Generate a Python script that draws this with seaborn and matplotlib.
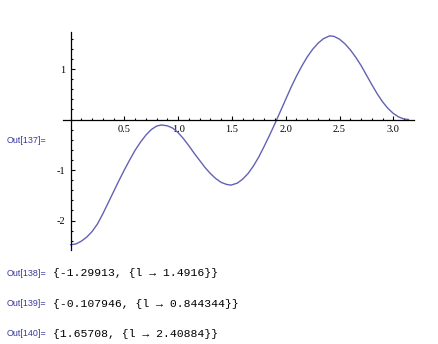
import matplotlib
matplotlib.use("Agg")
import matplotlib.pyplot as plt
import seaborn as sns
from matplotlib.ticker import FixedLocator, MultipleLocator

# ---- data ----
x_vals = [0.00, 0.05, 0.10, 0.15, 0.20, 0.25, 0.30, 0.35, 0.40, 0.45,
          0.50, 0.55, 0.60, 0.65, 0.70, 0.75, 0.80, 0.844344, 0.90, 0.95,
          1.00, 1.05, 1.10, 1.15, 1.20, 1.25, 1.30, 1.35, 1.40, 1.45,
          1.4916, 1.55, 1.60, 1.65, 1.70, 1.75, 1.80, 1.85, 1.90, 1.95,
          2.00, 2.05, 2.10, 2.15, 2.20, 2.25, 2.30, 2.35, 2.40884, 2.45,
          2.50, 2.55, 2.60, 2.65, 2.70, 2.75, 2.80, 2.85, 2.90, 2.95,
          3.00, 3.05, 3.10, 3.14159]
y_vals = [-2.48, -2.465, -2.41, -2.33, -2.22, -2.07, -1.87, -1.65, -1.43, -1.21,
          -1.00, -0.80, -0.61, -0.45, -0.31, -0.20, -0.13, -0.107946, -0.125, -0.17,
          -0.26, -0.38, -0.52, -0.67, -0.81, -0.95, -1.07, -1.17, -1.245, -1.285,
          -1.29913, -1.26, -1.18, -1.07, -0.92, -0.74, -0.53, -0.31, -0.08, 0.16,
          0.40, 0.64, 0.86, 1.06, 1.24, 1.39, 1.51, 1.60, 1.65708, 1.645,
          1.59, 1.50, 1.38, 1.235, 1.07, 0.88, 0.69, 0.51, 0.35, 0.22,
          0.12, 0.05, 0.01, 0.0]

x_major = [0.5, 1.0, 1.5, 2.0, 2.5, 3.0]
x_labels = ["0.5", "1.0", "1.5", "2.0", "2.5", "3.0"]
y_major = [-2, -1, 1]
y_labels = ["-2", "-1", "1"]

out_labels = ["Out[137]=", "Out[138]=", "Out[139]=", "Out[140]="]
results = ["{-1.29913, {l \u2192 1.4916}}",
           "{-0.107946, {l \u2192 0.844344}}",
           "{1.65708, {l \u2192 2.40884}}"]

# ---- drawing ----
sns.set_theme(style="white")
W, H = 438, 344
fig = plt.figure(figsize=(W / 100, H / 100), dpi=100)

left, right, top, bottom = 63, 414, 32, 250
ax = fig.add_axes([left / W, 1 - bottom / H, (right - left) / W, (bottom - top) / H])
ax.set_facecolor("none")

sns.lineplot(x=x_vals, y=y_vals, color="#6262b4", lw=1.0, ax=ax, sort=False)

ax.set_xlim(-0.0697, 3.192)
ax.set_ylim(-2.584, 1.733)

for s in ["top", "right"]:
    ax.spines[s].set_visible(False)
ax.spines["left"].set_position(("data", 0))
ax.spines["bottom"].set_position(("data", 0))
for s in ["left", "bottom"]:
    ax.spines[s].set_color("black")
    ax.spines[s].set_linewidth(0.9)

ax.xaxis.set_major_locator(FixedLocator(x_major))
ax.set_xticklabels(x_labels)
ax.xaxis.set_minor_locator(MultipleLocator(0.1))
ax.yaxis.set_major_locator(FixedLocator(y_major))
ax.set_yticklabels(y_labels)
ax.yaxis.set_minor_locator(MultipleLocator(0.2))

ax.tick_params(which="both", direction="in", color="black", width=0.8,
               bottom=True, left=True)
ax.tick_params(which="major", length=3.2)
ax.tick_params(which="minor", length=1.7)
ax.tick_params(axis="x", which="major", pad=4.0)
ax.tick_params(axis="y", which="major", pad=3.5)
for lab in ax.get_xticklabels() + ax.get_yticklabels():
    lab.set_fontfamily(["Liberation Serif", "DejaVu Serif"])
    lab.set_fontsize(7.5)
    lab.set_color("black")
ax.set_xlabel("")
ax.set_ylabel("")

out_color = "#3a3a9c"
label_y = [140, 273, 304, 334]
for lab, yy in zip(out_labels, label_y):
    fig.text(7 / W, 1 - yy / H, lab, color=out_color, fontsize=6.4,
             family=["Liberation Sans", "DejaVu Sans"], va="center", ha="left")
for res, yy in zip(results, label_y[1:]):
    fig.text(53 / W, 1 - yy / H, res, color="black", fontsize=8.2,
             family=["Liberation Mono", "DejaVu Sans Mono"], va="center", ha="left")

fig.savefig("out.png", dpi=100, facecolor="white")
